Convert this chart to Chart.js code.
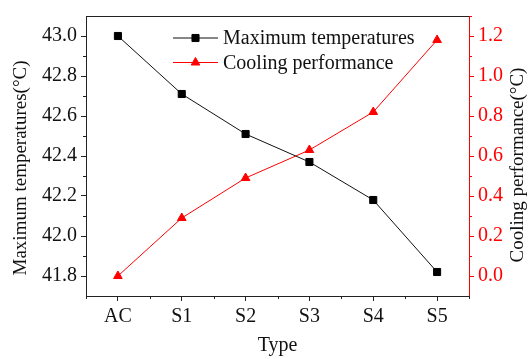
<!DOCTYPE html>
<html>
<head>
<meta charset="utf-8">
<script src="https://cdn.jsdelivr.net/npm/chart.js@4/dist/chart.umd.min.js"></script>
<style>
  html, body { margin: 0; padding: 0; background: #fff; }
</style>
</head>
<body>
<canvas id="chart" width="531" height="359"></canvas>
<script>
// values
const types = ["AC", "S1", "S2", "S3", "S4", "S5"];
const maxTemps = [43.0, 42.71, 42.51, 42.37, 42.18, 41.82];
const coolingPerf = [0.0, 0.29, 0.49, 0.63, 0.82, 1.18];
const leftTicks = [41.8, 42.0, 42.2, 42.4, 42.6, 42.8, 43.0];
const rightTicks = [0.0, 0.2, 0.4, 0.6, 0.8, 1.0, 1.2];
const leftTitle = "Maximum temperatures(°C)";
const rightTitle = "Cooling performance(°C)";

const RED = "#ff0000";
const INK = "#111";
const FONT = "'Liberation Serif', 'Times New Roman', serif";
Chart.defaults.font.family = FONT;
Chart.defaults.font.size = 20;
Chart.defaults.color = INK;

// minor ticks, top frame line, y titles (both read bottom-to-top) and the in-plot legend
const extras = {
  id: "extras",
  afterDraw(chart) {
    const ctx = chart.ctx;
    const area = chart.chartArea;
    const sx = chart.scales.x;
    const yl = chart.scales.y;
    const yr = chart.scales.y1;
    ctx.save();
    ctx.lineWidth = 1;

    // top frame
    ctx.strokeStyle = "#222";
    ctx.beginPath();
    ctx.moveTo(area.left, area.top + 0.5);
    ctx.lineTo(area.right, area.top + 0.5);
    ctx.stroke();

    // x minor ticks between categories
    const step = sx.getPixelForValue(1) - sx.getPixelForValue(0);
    ctx.beginPath();
    for (let i = 0; i <= types.length; i++) {
      const px = Math.round(sx.getPixelForValue(0) - step / 2 + i * step) + 0.5;
      ctx.moveTo(px, area.bottom);
      ctx.lineTo(px, area.bottom + 3);
    }
    ctx.stroke();

    // left y minor ticks
    ctx.beginPath();
    for (let k = 0; k < leftTicks.length; k++) {
      const py = Math.round(yl.getPixelForValue(leftTicks[k] - 0.1)) + 0.5;
      if (py > area.bottom || py < area.top) continue;
      ctx.moveTo(area.left, py);
      ctx.lineTo(area.left - 3, py);
    }
    ctx.stroke();

    // right y minor ticks
    ctx.strokeStyle = RED;
    ctx.beginPath();
    for (let k = 0; k <= rightTicks.length; k++) {
      const v = k < rightTicks.length ? rightTicks[k] - 0.1 : rightTicks[k - 1] + 0.1;
      const py = Math.round(yr.getPixelForValue(v)) + 0.5;
      if (py > area.bottom || py < area.top) continue;
      ctx.moveTo(area.right, py);
      ctx.lineTo(area.right + 3, py);
    }
    ctx.stroke();

    // y titles
    ctx.fillStyle = INK;
    ctx.font = "19px " + FONT;
    ctx.textAlign = "center";
    ctx.textBaseline = "middle";
    ctx.save();
    ctx.translate(21, 168);
    ctx.rotate(-Math.PI / 2);
    ctx.fillText(leftTitle, 0, 0);
    ctx.restore();
    ctx.save();
    ctx.translate(518, 165);
    ctx.rotate(-Math.PI / 2);
    ctx.fillText(rightTitle, 0, 0);
    ctx.restore();

    // legend
    ctx.font = "20px " + FONT;
    const lx = 173, lw = 45, ly0 = 38, gap = 24.5;
    chart.data.datasets.forEach((ds, i) => {
      const y = ly0 + i * gap;
      ctx.strokeStyle = ds.borderColor;
      ctx.lineWidth = 1;
      ctx.beginPath();
      ctx.moveTo(lx, y);
      ctx.lineTo(lx + lw, y);
      ctx.stroke();
      ctx.fillStyle = ds.pointBackgroundColor;
      ctx.strokeStyle = ds.pointBorderColor;
      Chart.helpers.drawPoint(ctx, {
        pointStyle: ds.pointStyle,
        radius: ds.pointRadius,
        rotation: 0,
        borderWidth: 1
      }, lx + lw / 2, y);
      ctx.fillStyle = INK;
      ctx.textBaseline = "middle";
      ctx.textAlign = "left";
      ctx.fillText(ds.label, lx + lw + 5, y + 1);
    });
    ctx.restore();
  }
};

new Chart(document.getElementById("chart"), {
  type: "line",
  data: {
    labels: types,
    datasets: [
      {
        label: "Maximum temperatures",
        data: maxTemps,
        yAxisID: "y",
        borderColor: INK,
        borderWidth: 1,
        pointStyle: "rect",
        pointRadius: 5,
        pointBackgroundColor: "#000",
        pointBorderColor: "#000",
        tension: 0
      },
      {
        label: "Cooling performance",
        data: coolingPerf,
        yAxisID: "y1",
        borderColor: RED,
        borderWidth: 1,
        pointStyle: "triangle",
        pointRadius: 5,
        pointBackgroundColor: RED,
        pointBorderColor: RED,
        tension: 0
      }
    ]
  },
  options: {
    responsive: false,
    animation: false,
    layout: { padding: { top: 14 } },
    plugins: {
      legend: { display: false },
      tooltip: { enabled: false }
    },
    scales: {
      x: {
        offset: true,
        grid: { drawOnChartArea: false, tickLength: 5, tickColor: "#222" },
        border: { color: "#222" },
        ticks: { padding: 4, color: INK },
        title: { display: true, text: "Type", padding: 1, color: INK },
        afterFit: (s) => { s.height = 63; }
      },
      y: {
        position: "left",
        min: 41.7,
        max: 43.1,
        afterBuildTicks: (s) => { s.ticks = leftTicks.map((v) => ({ value: v })); },
        grid: { drawOnChartArea: false, tickLength: 5, tickColor: "#222" },
        border: { color: "#222" },
        ticks: { padding: 4, color: INK, callback: (v) => Number(v).toFixed(1) },
        afterFit: (s) => { s.width = 86; }
      },
      y1: {
        position: "right",
        min: -0.1,
        max: 1.3,
        afterBuildTicks: (s) => { s.ticks = rightTicks.map((v) => ({ value: v })); },
        grid: { drawOnChartArea: false, tickLength: 5, tickColor: RED },
        border: { color: RED },
        ticks: { padding: 4, color: RED, callback: (v) => Number(v).toFixed(1) },
        afterFit: (s) => { s.width = 62; }
      }
    }
  },
  plugins: [extras]
});
</script>
</body>
</html>
